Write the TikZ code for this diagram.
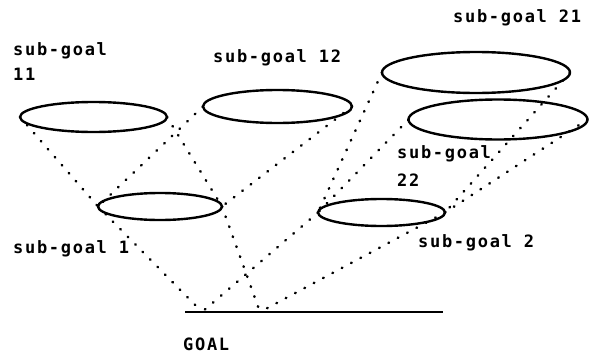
\documentclass[tikz,border=0pt]{standalone}
\usepackage{fontspec}
\newfontfamily\plotfont[LetterSpace=10]{DejaVu Sans Mono}
\usetikzlibrary{shapes.geometric}
\begin{document}
\begin{tikzpicture}[x=1pt,y=-1pt,
  goalring/.style={ellipse,draw=black,line width=2.4pt,inner sep=0pt,outer sep=0pt},
  cone/.style={line width=2.6pt,line cap=round,dash pattern=on 0.6pt off 10pt},
  lbl/.style={anchor=base west,inner sep=0pt,font=\plotfont\bfseries\fontsize{17}{20}\selectfont},
  goalline/.style={line width=2.8pt}]
\useasboundingbox (0,0) rectangle (589,356);
% ellipses
\node[goalring,minimum width=147pt,minimum height=30pt] (e11) at (93.5,117) {};
\node[goalring,minimum width=149pt,minimum height=33pt] (e12) at (277.5,106.5) {};
\node[goalring,minimum width=188pt,minimum height=41pt] (e21) at (476,72.5) {};
\node[goalring,minimum width=179pt,minimum height=40pt] (e22) at (498,119.5) {};
\node[goalring,minimum width=124pt,minimum height=27pt] (e1) at (160,206.5) {};
\node[goalring,minimum width=127pt,minimum height=27pt] (e2) at (381.5,212.5) {};
% goal
\coordinate (gl) at (185,312);
\coordinate (gr) at (443,312);
\coordinate (ga) at (202,312);
\coordinate (gb) at (260,312);
\draw[goalline] (gl) -- (gr);
% cones
\draw[cone] (e11.west) -- (e1.west);
\draw[cone] (e11.east) -- (e1.east);
\draw[cone] (e12.west) -- (e1.west);
\draw[cone] (e12.east) -- (e1.east);
\draw[cone] (e21.west) -- (e2.west);
\draw[cone] (e22.west) -- (e2.west);
\draw[cone] (e21.east) -- (e2.east);
\draw[cone] (e22.east) -- (e2.east);
\draw[cone] (e1.west) -- (ga);
\draw[cone] (e1.east) -- (gb);
\draw[cone] (e2.west) -- (ga);
\draw[cone] (e2.east) -- (gb);
% labels
\node[lbl] (t11a) at (13,55) {sub-goal};
\node[lbl] (t11b) at (13,80) {11};
\node[lbl] (t12) at (213,62) {sub-goal 12};
\node[lbl] (t21) at (453,23) {sub-goal 21};
\node[lbl] (t22a) at (397,158) {sub-goal};
\node[lbl] (t22b) at (397,186) {22};
\node[lbl] (t2) at (418,247) {sub-goal 2};
\node[lbl] (t1) at (13,253) {sub-goal 1};
\node[lbl] (tg) at (183,350) {GOAL};
\end{tikzpicture}
\end{document}
